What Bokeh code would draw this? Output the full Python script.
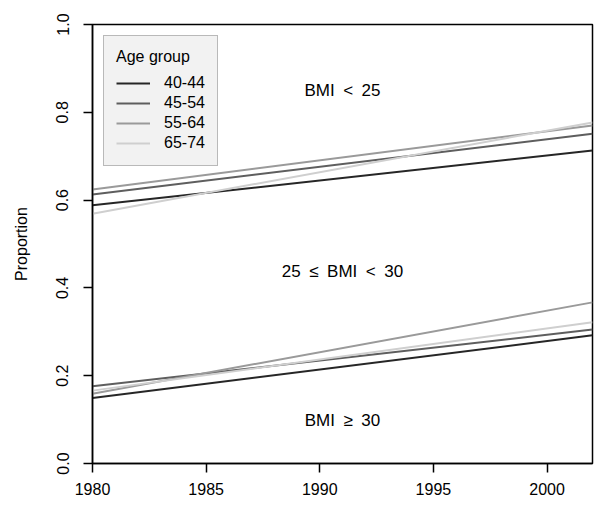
from bokeh.plotting import figure
from bokeh.models import Range1d, FixedTicker, PrintfTickFormatter, Label
from bokeh.embed import file_html
from bokeh.resources import INLINE

# ---- data ----
years = [1980, 2002]
age_groups = ["40-44", "45-54", "55-64", "65-74"]
colors = ["#262626", "#5e5e5e", "#9a9a9a", "#cfcfcf"]
# upper boundary lines (BMI < 25 / 25-30)
upper = {
    "40-44": [0.588, 0.713],
    "45-54": [0.613, 0.751],
    "55-64": [0.624, 0.770],
    "65-74": [0.569, 0.777],
}
# lower boundary lines (25-30 / BMI >= 30)
lower = {
    "40-44": [0.149, 0.292],
    "45-54": [0.176, 0.305],
    "55-64": [0.159, 0.367],
    "65-74": [0.166, 0.322],
}
x_ticks = [1980, 1985, 1990, 1995, 2000]
y_ticks = [0.0, 0.2, 0.4, 0.6, 0.8, 1.0]
SP = "\u2002"
region_labels = ["BMI" + SP + "<" + SP + "25",
                 "25" + SP + "\u2264" + SP + "BMI" + SP + "<" + SP + "30",
                 "BMI" + SP + "\u2265" + SP + "30"]
region_x = [1991.0, 1991.0, 1991.0]
region_y = [0.849, 0.437, 0.098]

FONT = "Liberation Sans"

p = figure(width=596, height=506, output_backend="svg", toolbar_location=None,
           x_range=Range1d(1980, 2002), y_range=Range1d(0, 1),
           min_border_left=92, min_border_top=24, min_border_right=4, min_border_bottom=43)
p.grid.visible = False
p.outline_line_color = "black"
p.outline_line_width = 1.5
p.background_fill_color = "white"

for g, c in zip(age_groups, colors):
    p.line(years, upper[g], line_color=c, line_width=2, legend_label=g)
    p.line(years, lower[g], line_color=c, line_width=2)

for t, x, y in zip(region_labels, region_x, region_y):
    p.add_layout(Label(x=x, y=y, text=t, text_align="center", text_baseline="middle",
                       text_font=FONT, text_font_size="17px", text_color="black"))

for ax in (p.xaxis[0], p.yaxis[0]):
    ax.axis_line_color = "black"
    ax.axis_line_width = 1.5
    ax.major_tick_line_color = "black"
    ax.major_tick_line_width = 1.5
    ax.major_tick_out = 9
    ax.major_tick_in = 0
    ax.minor_tick_line_color = None
    ax.major_label_text_font = FONT
    ax.major_label_text_font_size = "16px"
    ax.major_label_text_color = "black"
    ax.axis_label_text_font = FONT
    ax.axis_label_text_font_size = "16px"
    ax.axis_label_text_font_style = "normal"
    ax.axis_label_text_color = "black"

p.xaxis.ticker = FixedTicker(ticks=x_ticks)
p.xaxis.major_label_standoff = 10
p.yaxis.ticker = FixedTicker(ticks=y_ticks)
p.yaxis.formatter = PrintfTickFormatter(format="%.1f")
p.yaxis.major_label_orientation = "parallel"
p.yaxis.major_label_standoff = 15
p.yaxis.axis_label = "Proportion"
p.yaxis.axis_label_standoff = 24

lg = p.legend[0]
lg.title = "Age group"
lg.title_text_font = FONT
lg.title_text_font_size = "16px"
lg.title_text_font_style = "normal"
lg.title_text_color = "black"
lg.title_standoff = 7
lg.label_text_font = FONT
lg.label_text_font_size = "16px"
lg.label_text_color = "black"
lg.location = "top_left"
lg.margin = 11
lg.padding = 12
lg.spacing = 0
lg.label_height = 20
lg.glyph_height = 20
lg.glyph_width = 34
lg.label_standoff = 14
lg.background_fill_color = "#f2f2f2"
lg.background_fill_alpha = 1
lg.border_line_color = "#808080"
lg.border_line_width = 1.5

open("out.html", "w").write(file_html(p, INLINE))
